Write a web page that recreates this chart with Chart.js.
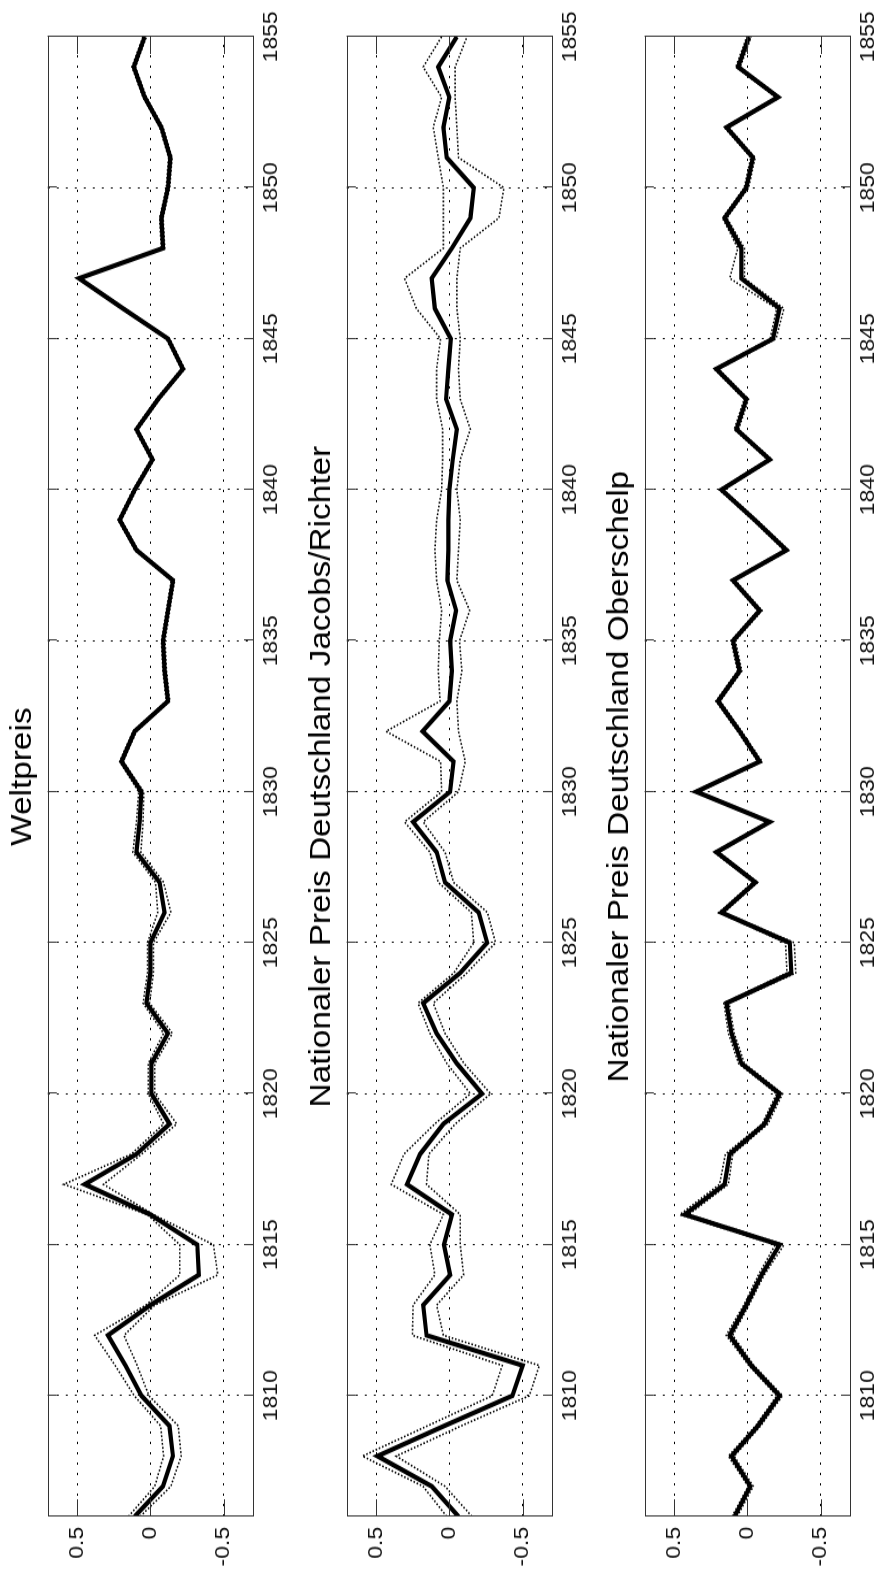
<!DOCTYPE html>
<html lang="de">
<head>
  <meta charset="UTF-8" />
  <title>Weltpreis / Nationaler Preis Deutschland</title>
  <script src="https://cdn.jsdelivr.net/npm/chart.js"></script>
  <style>
    html, body { margin: 0; padding: 0; background: #fff; overflow: hidden; }
    /* figure is drawn landscape, then turned a quarter left */
    #figure {
      position: absolute; left: 0; top: 0;
      width: 1369px; height: 883px;
      transform-origin: 0 0;
      transform: translate(0, 1574px) rotate(-90deg) scale(1.14975, 1);
    }
    #figure canvas { position: absolute; left: 0; }
  </style>
</head>
<body>
  <div id="figure">
    <canvas id="c1" width="1369" height="298" style="top:0px"></canvas>
    <canvas id="c2" width="1369" height="298" style="top:299px"></canvas>
    <canvas id="c3" width="1369" height="298" style="top:597px"></canvas>
  </div>

  <script>
    const years = [1806, 1807, 1808, 1809, 1810, 1811, 1812, 1813, 1814, 1815,
                   1816, 1817, 1818, 1819, 1820, 1821, 1822, 1823, 1824, 1825,
                   1826, 1827, 1828, 1829, 1830, 1831, 1832, 1833, 1834, 1835,
                   1836, 1837, 1838, 1839, 1840, 1841, 1842, 1843, 1844, 1845,
                   1846, 1847, 1848, 1849, 1850, 1851, 1852, 1853, 1854, 1855];
    const yearTicks = [1810, 1815, 1820, 1825, 1830, 1835, 1840, 1845, 1850, 1855];
    const valueTicks = [-0.5, 0, 0.5];
    const titles = ['Weltpreis', 'Nationaler Preis Deutschland Jacobs/Richter', 'Nationaler Preis Deutschland Oberschelp'];

    // Weltpreis
    const welt = [0.107, -0.086, -0.154, -0.13, 0.061, 0.17, 0.29, 0.0, -0.33, -0.32,
                  0.0, 0.447, 0.095, -0.131, -0.007, -0.007, -0.12, 0.027, 0.0, 0.0,
                  -0.097, -0.063, 0.095, 0.073, 0.061, 0.197, 0.107, -0.12, -0.097, -0.086,
                  -0.12, -0.154, 0.095, 0.209, 0.107, -0.014, 0.095, -0.052, -0.222, -0.12,
                  0.186, 0.486, -0.086, -0.075, -0.12, -0.136, -0.075, 0.039, 0.114, 0.039];
    const weltUpper = [0.15, -0.03, -0.09, -0.07, 0.11, 0.24, 0.38, 0.03, -0.20, -0.20,
                       0.02, 0.59, 0.13, -0.09, 0.015, 0.015, -0.09, 0.05, 0.02, 0.02,
                       -0.05, -0.035, 0.12, 0.095, 0.08, 0.21, 0.12, -0.108, -0.085, -0.075,
                       -0.108, -0.142, 0.107, 0.221, 0.119, -0.002, 0.107, -0.04, -0.21, -0.108,
                       0.198, 0.498, -0.074, -0.063, -0.108, -0.124, -0.063, 0.051, 0.126, 0.051];
    const weltLower = [0.07, -0.14, -0.21, -0.19, 0.01, 0.09, 0.18, -0.03, -0.46, -0.43,
                       -0.02, 0.32, 0.06, -0.18, -0.03, -0.03, -0.15, 0.005, -0.02, -0.02,
                       -0.14, -0.09, 0.065, 0.05, 0.045, 0.185, 0.095, -0.132, -0.11, -0.1,
                       -0.132, -0.166, 0.083, 0.197, 0.095, -0.026, 0.083, -0.064, -0.234, -0.132,
                       0.174, 0.474, -0.098, -0.087, -0.132, -0.148, -0.087, 0.027, 0.102, 0.027];

    // Jacobs/Richter
    const jacobs = [-0.062, 0.121, 0.49, 0.035, -0.43, -0.50, 0.156, 0.179, -0.005, 0.037,
                    -0.017, 0.29, 0.2, 0.041, -0.223, -0.051, 0.087, 0.179, -0.074, -0.258,
                    -0.2, 0.03, 0.087, 0.248, -0.005, -0.028, 0.183, 0.0, -0.017, -0.005,
                    -0.046, 0.014, 0.007, 0.007, 0.0, -0.023, -0.051, 0.023, 0.007, -0.01,
                    0.099, 0.121, -0.017, -0.143, -0.166, 0.018, 0.041, 0.0, 0.076, -0.051];
    const jacobsUpper = [0.018, 0.18, 0.593, 0.15, -0.292, -0.361, 0.252, 0.248, 0.099, 0.133,
                         0.041, 0.397, 0.31, 0.1, -0.143, 0.017, 0.133, 0.214, -0.03, -0.166,
                         -0.15, 0.076, 0.133, 0.306, 0.053, 0.06, 0.432, 0.064, 0.076, 0.069,
                         0.053, 0.087, 0.099, 0.087, 0.053, 0.046, 0.046, 0.087, 0.087, 0.06,
                         0.225, 0.306, 0.041, 0.041, 0.041, 0.076, 0.11, 0.053, 0.179, 0.053];
    const jacobsLower = [-0.154, 0.03, 0.363, -0.08, -0.545, -0.614, 0.041, 0.087, -0.097, -0.074,
                         -0.074, 0.156, 0.14, -0.04, -0.281, -0.1, 0.03, 0.11, -0.12, -0.315,
                         -0.26, -0.028, 0.03, 0.179, -0.062, -0.108, -0.062, -0.051, -0.085, -0.069,
                         -0.138, -0.051, -0.062, -0.074, -0.051, -0.074, -0.143, -0.074, -0.062, -0.074,
                         -0.051, -0.051, -0.074, -0.338, -0.372, -0.062, -0.051, -0.039, -0.039, -0.12];

    // Oberschelp
    const obers = [0.087, -0.02, 0.109, -0.072, -0.22, -0.027, 0.121, 0.007, -0.096, -0.22,
                   0.428, 0.155, 0.121, -0.118, -0.22, 0.041, 0.109, 0.143, -0.3, -0.289,
                   0.177, -0.054, 0.211, -0.152, 0.348, -0.084, 0.053, 0.2, 0.053, 0.098,
                   -0.084, 0.098, -0.266, -0.05, 0.177, -0.152, 0.075, 0.007, 0.212, -0.175,
                   -0.22, 0.041, 0.041, 0.155, 0.007, -0.038, 0.143, -0.209, 0.064, -0.011];
    const obersUpper = [0.105, -0.005, 0.13, -0.055, -0.2, -0.01, 0.145, 0.025, -0.075, -0.19,
                        0.46, 0.19, 0.15, -0.1, -0.2, 0.06, 0.13, 0.16, -0.27, -0.26,
                        0.195, -0.038, 0.227, -0.137, 0.365, -0.07, 0.068, 0.215, 0.068, 0.112,
                        -0.07, 0.112, -0.25, -0.035, 0.192, -0.137, 0.09, 0.022, 0.227, -0.155,
                        -0.2, 0.12, 0.065, 0.17, 0.022, -0.023, 0.158, -0.194, 0.079, 0.004];
    const obersLower = [0.07, -0.04, 0.09, -0.09, -0.24, -0.045, 0.1, -0.01, -0.115, -0.25,
                        0.4, 0.13, 0.1, -0.14, -0.24, 0.02, 0.09, 0.125, -0.33, -0.32,
                        0.16, -0.07, 0.195, -0.167, 0.33, -0.1, 0.038, 0.185, 0.038, 0.082,
                        -0.1, 0.082, -0.282, -0.065, 0.162, -0.167, 0.06, -0.008, 0.197, -0.195,
                        -0.25, 0.02, 0.02, 0.14, -0.008, -0.053, 0.128, -0.224, 0.049, -0.026];

    const FONT = 'Liberation Sans, Arial, Helvetica, sans-serif';

    const pts = vals => years.map((yr, i) => ({ x: yr, y: vals[i] }));

    // box around the plot area plus inward tick marks (MATLAB style)
    const framePlugin = {
      id: 'frame',
      afterDatasetsDraw(chart) {
        const { ctx, chartArea: a, scales: { x, y } } = chart;
        ctx.save();
        ctx.strokeStyle = '#333';
        ctx.lineWidth = 1;
        ctx.setLineDash([]);
        ctx.beginPath();
        x.ticks.forEach(t => {
          const px = Math.round(x.getPixelForValue(t.value)) + 0.5;
          ctx.moveTo(px, a.bottom); ctx.lineTo(px, a.bottom - 9);
          ctx.moveTo(px, a.top); ctx.lineTo(px, a.top + 9);
        });
        y.ticks.forEach(t => {
          const py = Math.round(y.getPixelForValue(t.value)) + 0.5;
          ctx.moveTo(a.left, py); ctx.lineTo(a.left + 15, py);
          ctx.moveTo(a.right, py); ctx.lineTo(a.right - 15, py);
        });
        ctx.stroke();
        ctx.strokeRect(Math.round(a.left) + 0.5, Math.round(a.top) + 0.5,
                       Math.round(a.width), Math.round(a.height));
        ctx.restore();
      }
    };

    const makePanel = (id, title, main, upper, lower) => {
      const dotted = {
        borderColor: '#000', borderWidth: 1.6, borderDash: [1.6, 1.8],
        pointRadius: 0, fill: false, order: 0
      };
      return new Chart(document.getElementById(id), {
        type: 'line',
        data: {
          datasets: [
            { ...dotted, data: pts(upper) },
            { ...dotted, data: pts(lower) },
            { data: pts(main), borderColor: '#000', borderWidth: 4.2, pointRadius: 0, fill: false, order: 1 }
          ]
        },
        options: {
          responsive: false,
          animation: false,
          layout: { padding: { left: 0, right: 32, top: 0, bottom: 0 } },
          plugins: {
            legend: { display: false },
            tooltip: { enabled: false },
            title: {
              display: true, text: title, fullSize: false, color: '#000',
              font: { family: FONT, size: 29, weight: 'normal' },
              padding: { top: 6, bottom: 7 }
            }
          },
          scales: {
            x: {
              type: 'linear', min: 1806, max: 1855,
              afterBuildTicks: s => { s.ticks = yearTicks.map(v => ({ value: v })); },
              afterFit: s => { s.height = 45; },
              grid: { color: '#000', lineWidth: 1, drawTicks: false },
              border: { display: false, dash: [2, 7] },
              ticks: {
                color: '#111', padding: 6, maxRotation: 0, autoSkip: false,
                font: { family: FONT, size: 20 },
                callback: v => String(v)
              }
            },
            y: {
              type: 'linear', min: -0.7, max: 0.7,
              afterBuildTicks: s => { s.ticks = valueTicks.map(v => ({ value: v })); },
              afterFit: s => { s.width = 50; },
              grid: { color: '#000', lineWidth: 1, drawTicks: false },
              border: { display: false, dash: [2, 7] },
              ticks: {
                color: '#111', padding: 9,
                font: { family: FONT, size: 20 },
                callback: v => String(v)
              }
            }
          }
        },
        plugins: [framePlugin]
      });
    };

    makePanel('c1', titles[0], welt, weltUpper, weltLower);
    makePanel('c2', titles[1], jacobs, jacobsUpper, jacobsLower);
    makePanel('c3', titles[2], obers, obersUpper, obersLower);
  </script>
</body>
</html>
